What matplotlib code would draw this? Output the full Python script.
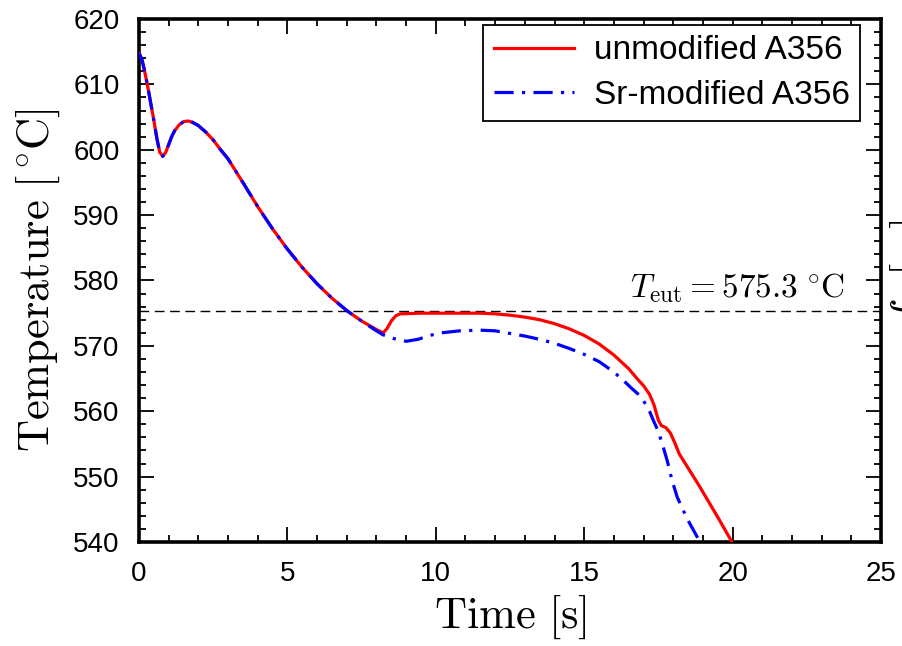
import matplotlib
matplotlib.use("Agg")
import matplotlib.pyplot as plt
from matplotlib.ticker import MultipleLocator

# ---- data ----
t_common = [0.0, 0.1, 0.2, 0.3, 0.4, 0.5, 0.6, 0.7, 0.8, 0.9, 1.0, 1.1, 1.2, 1.35, 1.5, 1.65,
            1.8, 2.0, 2.25, 2.5, 2.75, 3.0, 3.5, 4.0, 4.5, 5.0, 5.5, 6.0, 6.5, 7.0, 7.5]
T_common = [614.8, 613.8, 611.8, 609.5, 607.0, 604.5, 601.8, 599.6, 599.0, 599.6, 600.8, 602.0,
            602.9, 603.8, 604.3, 604.4, 604.2, 603.7, 602.7, 601.5, 600.0, 598.6, 595.0, 591.3,
            587.9, 584.8, 582.0, 579.5, 577.3, 575.4, 573.8]

t_unmod_tail = [8.0, 8.22, 8.35, 8.5, 8.65, 8.8, 9.5, 10.5, 11.5, 12.0, 12.5, 13.0, 13.5, 14.0,
                14.5, 15.0, 15.5, 16.0, 16.5, 16.8, 17.0, 17.2, 17.35, 17.5, 17.6, 17.75, 17.9,
                18.05, 18.2, 18.35, 18.6, 18.9, 19.2, 19.5, 19.98]
T_unmod_tail = [572.5, 571.97, 572.6, 573.8, 574.6, 574.9, 575.0, 575.0, 575.0, 574.9, 574.7,
                574.4, 574.0, 573.4, 572.6, 571.6, 570.3, 568.6, 566.5, 564.9, 563.9, 562.6,
                561.0, 558.6, 557.8, 557.5, 556.7, 555.2, 553.5, 552.4, 550.6, 548.4, 546.1,
                543.8, 540.0]

t_sr_tail = [8.0, 8.22, 8.6, 9.0, 9.4, 9.8, 10.2, 10.8, 11.5, 12.0, 12.5, 13.0, 13.5, 14.0, 14.5,
             15.0, 15.5, 16.0, 16.3, 16.6, 16.8, 17.0, 17.2, 17.35, 17.5, 17.65, 17.8, 17.95,
             18.13, 18.3, 18.5, 18.9]
T_sr_tail = [572.3, 571.7, 571.1, 570.7, 571.0, 571.6, 572.0, 572.3, 572.4, 572.3, 571.9, 571.5,
             571.0, 570.4, 569.6, 568.7, 567.6, 566.0, 564.8, 563.5, 562.7, 561.6, 560.0, 558.4,
             556.9, 554.7, 552.4, 549.6, 546.9, 545.2, 543.3, 540.0]

t_unmod = t_common + t_unmod_tail
T_unmod = T_common + T_unmod_tail
t_sr = t_common + t_sr_tail
T_sr = T_common + T_sr_tail

T_eut = 575.3
labels = ["unmodified A356", "Sr-modified A356"]

plt.rcParams['mathtext.fontset'] = 'cm'
plt.rcParams['font.family'] = ['Liberation Sans', 'DejaVu Sans']
plt.rcParams['axes.unicode_minus'] = False

fig = plt.figure(figsize=(9.02, 6.46), dpi=100)
ax = fig.add_axes([139/902, 1-542/646, (881-139)/902, (542-19)/646])

ax.plot(t_unmod, T_unmod, color='#ff0000', lw=2.3, solid_joinstyle='round', label=labels[0], zorder=3)
ax.plot(t_sr, T_sr, color='#0000ff', lw=2.3, linestyle=(0, (6, 2.6, 1, 2.6)), label=labels[1], zorder=4)

ax.axhline(T_eut, color='black', lw=1.0, linestyle=(0, (7, 4)), zorder=2)
ax.text(23.8, 577.5, r'$T_\mathrm{eut} = 575.3\,{}^\circ\!\mathrm{C}$', ha='right', va='baseline', fontsize=24)

ax.set_xlim(0, 25)
ax.set_ylim(540, 620)
ax.xaxis.set_major_locator(MultipleLocator(5))
ax.xaxis.set_minor_locator(MultipleLocator(1))
ax.yaxis.set_major_locator(MultipleLocator(10))
ax.yaxis.set_minor_locator(MultipleLocator(2))
ax.tick_params(which='both', direction='in', top=True, right=True, width=1.3)
ax.tick_params(which='major', length=11, labelsize=20, pad=14)
ax.tick_params(which='minor', length=5)
for sp in ax.spines.values():
    sp.set_linewidth(2.6)

ax.set_xlabel(r'$\mathrm{Time\ [s]}$', fontsize=32, labelpad=4)
ax.set_ylabel(r'$\mathrm{Temperature\ [{}^\circ\!C]}$', fontsize=32, labelpad=8)

leg = ax.legend(loc='upper right', bbox_to_anchor=(0.972, 0.989), borderaxespad=0,
                fontsize=24, fancybox=False, framealpha=1, edgecolor='black',
                handlelength=2.4, handletextpad=0.6, borderpad=0.32, labelspacing=0.4)
leg.get_frame().set_linewidth(1.3)

fig.text(888/902, 1-272/646, r'$f_\mathrm{s}\ [-]$', rotation=90, ha='left', va='center', fontsize=32)

fig.savefig('out.png', dpi=100)
